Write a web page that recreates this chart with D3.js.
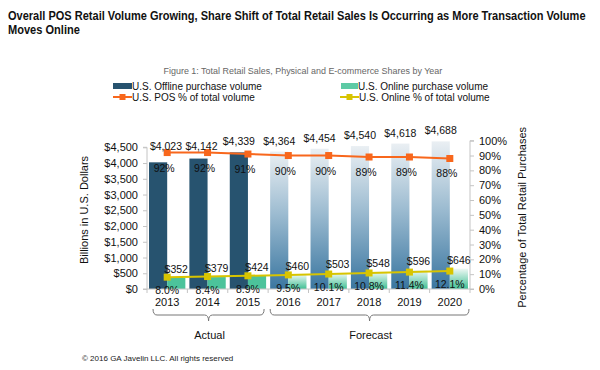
<!DOCTYPE html>
<html>
<head>
<meta charset="utf-8">
<script src="https://cdn.jsdelivr.net/npm/d3@7"></script>
<style>
  body { margin: 0; background: #fff; }
  svg { display: block; font-family: Arial, "Liberation Sans", sans-serif; }
</style>
</head>
<body>
<svg id="chart" width="600" height="370"></svg>
<script>
// data
var years = ["2013", "2014", "2015", "2016", "2017", "2018", "2019", "2020"];
var offline = [4023, 4142, 4339, 4364, 4454, 4540, 4618, 4688];
var online = [352, 379, 424, 460, 503, 548, 596, 646];
var posPct = [92, 92, 91, 90, 90, 89, 89, 88];
var onlinePct = [8.0, 8.4, 8.9, 9.5, 10.1, 10.8, 11.4, 12.1];
var forecastFrom = "2016";
var groups = [
  {name: "Actual", from: "2013", to: "2015"},
  {name: "Forecast", from: "2016", to: "2020"}
];
var leftTicks = [0, 500, 1000, 1500, 2000, 2500, 3000, 3500, 4000, 4500];
var rightTicks = [0, 10, 20, 30, 40, 50, 60, 70, 80, 90, 100];

var svg = d3.select("#chart");
var axisColor = "#c4c4c4";
var darkBlue = "#27536f", green = "#4cc39b", orange = "#f8671c", yellow = "#d8c400";

var x = d3.scaleBand().domain(years).range([147, 470]).paddingInner(0.1).paddingOuter(0.05);
var x1 = d3.scaleBand().domain(["off", "on"]).range([0, x.bandwidth()]);
var yL = d3.scaleLinear().domain([0, 4500]).range([289, 147.3]);
var yR = d3.scaleLinear().domain([0, 100]).range([289, 140.7]);
var fmt = d3.format(",");

// squeeze a text horizontally to a given width (title font in the source is narrow)
function fitText(t, x0, w, anchor) {
  var n = t.node().getComputedTextLength();
  var s = w / n;
  var left = anchor === "middle" ? x0 - w / 2 : x0;
  t.attr("x", 0).attr("transform", "translate(" + left + ",0) scale(" + s + ",1)");
}

// gradients for forecast bars
var defs = svg.append("defs");
var g1 = defs.append("linearGradient").attr("id", "gOff").attr("x1", 0).attr("y1", 0).attr("x2", 0).attr("y2", 1);
g1.append("stop").attr("offset", "0%").attr("stop-color", "#eaeff3");
g1.append("stop").attr("offset", "45%").attr("stop-color", "#9dbcd1");
g1.append("stop").attr("offset", "100%").attr("stop-color", "#3a76a0");
var g2 = defs.append("linearGradient").attr("id", "gOn").attr("x1", 0).attr("y1", 0).attr("x2", 0).attr("y2", 1);
g2.append("stop").attr("offset", "0%").attr("stop-color", "#eef8f4");
g2.append("stop").attr("offset", "100%").attr("stop-color", "#3fbf93");

// titles
var t1 = svg.append("text").attr("y", 20)
  .attr("font-size", 12).attr("font-weight", "bold").attr("fill", "#111")
  .text("Overall POS Retail Volume Growing, Share Shift of Total Retail Sales Is Occurring as More Transaction Volume");
fitText(t1, 8, 578);
var t2 = svg.append("text").attr("y", 34)
  .attr("font-size", 12).attr("font-weight", "bold").attr("fill", "#111")
  .text("Moves Online");
fitText(t2, 8, 72);
var t3 = svg.append("text").attr("y", 74)
  .attr("font-size", 9).attr("fill", "#666")
  .text("Figure 1: Total Retail Sales, Physical and E-commerce Shares by Year");
fitText(t3, 303, 279, "middle");

// legend
var leg = svg.append("g").attr("font-size", 10).attr("fill", "#111");
leg.append("rect").attr("x", 113).attr("y", 83).attr("width", 19).attr("height", 6).attr("fill", darkBlue);
leg.append("text").attr("x", 132).attr("y", 89.5).text("U.S. Offline purchase volume");
leg.append("rect").attr("x", 341).attr("y", 83).attr("width", 17).attr("height", 6).attr("fill", "#5dcaa5");
leg.append("text").attr("x", 358).attr("y", 89.5).text("U.S. Online purchase volume");
[[113, orange, "U.S. POS % of total volume"], [340, yellow, "U.S. Online % of total volume"]].forEach(function(l) {
  leg.append("line").attr("x1", l[0]).attr("x2", l[0] + 19).attr("y1", 97).attr("y2", 97)
    .attr("stroke", l[1]).attr("stroke-width", 2);
  leg.append("rect").attr("x", l[0] + 6.5).attr("y", 94).attr("width", 6).attr("height", 6).attr("fill", l[1]);
  leg.append("text").attr("x", l[0] + 19).attr("y", 100.5).text(l[2]);
});

// bars
var isFc = function(i) { return years.indexOf(forecastFrom) <= i; };
svg.append("g").selectAll("rect").data(offline).join("rect")
  .attr("x", function(d, i) { return x(years[i]) + x1("off"); })
  .attr("y", function(d) { return yL(d); })
  .attr("width", x1.bandwidth())
  .attr("height", function(d) { return yL(0) - yL(d); })
  .attr("fill", function(d, i) { return isFc(i) ? "url(#gOff)" : darkBlue; });
svg.append("g").selectAll("rect").data(online).join("rect")
  .attr("x", function(d, i) { return x(years[i]) + x1("on"); })
  .attr("y", function(d) { return yL(d); })
  .attr("width", x1.bandwidth())
  .attr("height", function(d) { return yL(0) - yL(d); })
  .attr("fill", function(d, i) { return isFc(i) ? "url(#gOn)" : green; });

// axes
var axL = svg.append("g").attr("transform", "translate(147,0)")
  .call(d3.axisLeft(yL).tickValues(leftTicks).tickSize(4).tickPadding(5)
    .tickFormat(function(d) { return "$" + fmt(d); }));
var axR = svg.append("g").attr("transform", "translate(470,0)")
  .call(d3.axisRight(yR).tickValues(rightTicks).tickSize(4).tickPadding(5)
    .tickFormat(function(d) { return d + "%"; }));
[axL, axR].forEach(function(a) {
  a.select(".domain").attr("stroke", axisColor);
  a.selectAll(".tick line").attr("stroke", axisColor);
  a.selectAll("text").attr("font-size", 11).attr("fill", "#111").attr("font-family", "Arial, 'Liberation Sans', sans-serif");
});
axR.select(".domain").attr("d", "M4," + yR(100) + "H0V" + yR(0) + "H4");
axL.select(".domain").attr("d", "M-4," + yL(4500) + "H0V" + yL(0) + "H-4");

var bottom = svg.append("g");
bottom.append("line").attr("x1", 147).attr("x2", 470).attr("y1", 289).attr("y2", 289).attr("stroke", axisColor);
var bounds = years.map(function(y) { return x(y) - x.step() * x.paddingInner() / 2; });
bounds.push(x(years[years.length - 1]) + x.bandwidth() + x.step() * x.paddingInner() / 2);
bottom.selectAll("line.tk").data(bounds).join("line").attr("class", "tk")
  .attr("x1", function(d) { return d; }).attr("x2", function(d) { return d; })
  .attr("y1", 289).attr("y2", 293).attr("stroke", axisColor);
bottom.selectAll("text").data(years).join("text")
  .attr("x", function(d) { return x(d) + x.bandwidth() / 2; })
  .attr("y", 306).attr("text-anchor", "middle").attr("font-size", 11).attr("fill", "#111")
  .text(function(d) { return d; });

// axis titles
svg.append("text").attr("transform", "translate(88,210) rotate(-90)")
  .attr("text-anchor", "middle").attr("font-size", 11).attr("fill", "#111")
  .text("Billions in U.S. Dollars");
svg.append("text").attr("transform", "translate(526,127) rotate(-90)")
  .attr("text-anchor", "end").attr("font-size", 11).attr("fill", "#111")
  .text("Percentage of Total Retail Purchases");

// lines
var cx = function(i) { return x(years[i]) + x.bandwidth() / 2; };
[[posPct, orange], [onlinePct, yellow]].forEach(function(s) {
  var line = d3.line().x(function(d, i) { return cx(i); }).y(function(d) { return yR(d); });
  svg.append("path").datum(s[0]).attr("d", line).attr("fill", "none")
    .attr("stroke", s[1]).attr("stroke-width", 2);
  svg.append("g").selectAll("rect").data(s[0]).join("rect")
    .attr("x", function(d, i) { return cx(i) - 3.5; })
    .attr("y", function(d) { return yR(d) - 3.5; })
    .attr("width", 7).attr("height", 7).attr("fill", s[1]);
});

// data labels
var lab = svg.append("g").attr("font-size", 10.5).attr("fill", "#111").attr("text-anchor", "middle");
lab.selectAll("text.off").data(offline).join("text").attr("class", "off")
  .attr("x", function(d, i) { return Math.max(x(years[i]) + x1("off") + x1.bandwidth() / 2 + (i === 1 ? 3 : 0), 166); })
  .attr("y", function(d, i) { return Math.min(yL(d) - 7, yR(posPct[i]) - 3); })
  .text(function(d) { return "$" + fmt(d); });
lab.selectAll("text.on").data(online).join("text").attr("class", "on")
  .attr("x", function(d, i) { return x(years[i]) + x1("on") + x1.bandwidth() / 2; })
  .attr("y", function(d) { return yL(d) - 5; })
  .text(function(d) { return "$" + fmt(d); });
lab.selectAll("text.pp").data(posPct).join("text").attr("class", "pp")
  .attr("x", function(d, i) { return cx(i) - 3; })
  .attr("y", function(d) { return yR(d) + 19; })
  .text(function(d) { return d + "%"; });
lab.selectAll("text.op").data(onlinePct).join("text").attr("class", "op")
  .attr("x", function(d, i) { return cx(i); })
  .attr("y", function(d) { return yR(d) + 17; })
  .text(function(d) { return d.toFixed(1) + "%"; });

// brackets
var br = svg.append("g");
groups.forEach(function(gr, k) {
  var x0 = x(gr.from) + (k === 0 ? 4 : 0);
  var x2 = x(gr.to) + x.bandwidth() + (k === 0 ? -2 : 1);
  var xm = (x0 + x2) / 2;
  var path = "M" + x0 + ",309 Q" + x0 + ",315 " + (x0 + 4) + ",315 L" + (xm - 4) + ",315 Q" + xm + ",315 " + xm + ",321" +
    " M" + xm + ",321 Q" + xm + ",315 " + (xm + 4) + ",315 L" + (x2 - 4) + ",315 Q" + x2 + ",315 " + x2 + ",309";
  br.append("path").attr("d", path).attr("fill", "none").attr("stroke", "#777").attr("stroke-width", 1);
  br.append("text").attr("x", xm + 1).attr("y", 339).attr("text-anchor", "middle")
    .attr("font-size", 11).attr("fill", "#111").text(gr.name);
});

svg.append("text").attr("x", 82).attr("y", 361).attr("font-size", 8).attr("fill", "#222")
  .text("© 2016 GA Javelin LLC. All rights reserved");
</script>
</body>
</html>
